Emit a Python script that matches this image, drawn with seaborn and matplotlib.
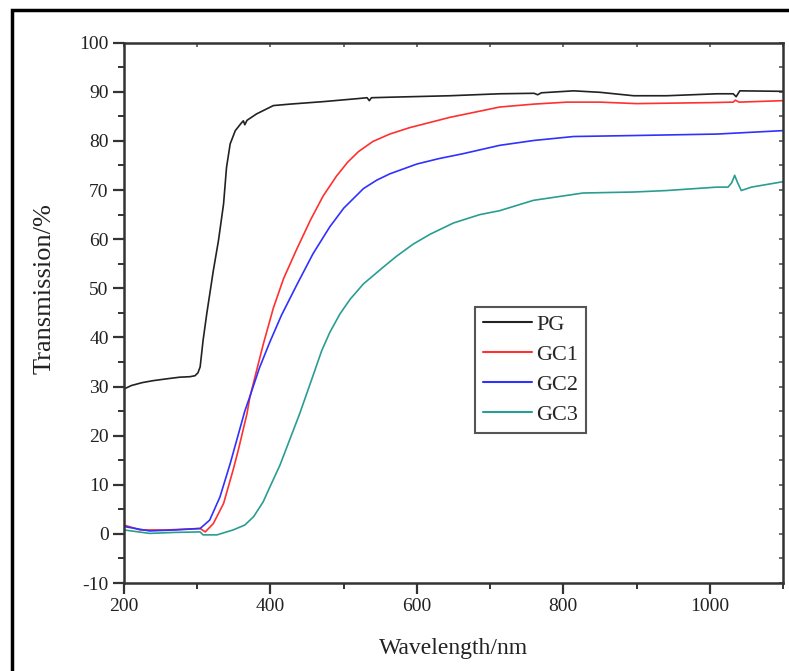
import numpy as np
import pandas as pd
import matplotlib
matplotlib.use("Agg")
import matplotlib.pyplot as plt
from matplotlib.patches import Rectangle
from matplotlib.ticker import MultipleLocator
import seaborn as sns

# ---- data (wavelength in nm, transmission in %) ----
pg_nm = [200, 210, 225, 240, 260, 276, 290, 297, 301, 304, 308, 313, 322, 329, 336, 340, 345,
         352, 360, 363, 365, 368, 381, 404, 427, 472, 518, 532, 535, 538, 563, 645, 713,
         760, 765, 770, 814, 850, 896, 941, 1010, 1032, 1036, 1041, 1100]
pg_t = [29.5, 30.2, 30.8, 31.2, 31.6, 31.9, 32.0, 32.2, 32.8, 34.0, 39.4, 44.8, 53.6, 59.7,
        67.2, 74.6, 79.4, 82.1, 83.6, 84.1, 83.3, 84.2, 85.5, 87.2, 87.5, 88.0, 88.6, 88.8,
        88.2, 88.8, 88.9, 89.2, 89.6, 89.7, 89.4, 89.8, 90.2, 89.9, 89.2, 89.2, 89.6, 89.6,
        89.0, 90.2, 90.1]

gc1_nm = [200, 222, 258, 304, 311, 322, 336, 349, 356, 368, 372, 390, 404, 418, 436, 455,
          472, 490, 505, 520, 540, 563, 590, 645, 713, 760, 805, 850, 900, 1000, 1032, 1035,
          1040, 1100]
gc1_t = [1.8, 0.8, 0.8, 1.1, 0.4, 2.1, 6.2, 13.0, 17.0, 24.5, 27.9, 38.5, 46.0, 52.0, 58.0,
         64.0, 68.8, 72.8, 75.6, 77.8, 79.9, 81.4, 82.7, 84.8, 86.9, 87.5, 87.9, 87.9, 87.6,
         87.8, 87.9, 88.3, 87.9, 88.2]

gc2_nm = [200, 235, 270, 304, 317, 331, 345, 365, 372, 385, 399, 415, 436, 458, 481, 500,
          527, 545, 563, 600, 630, 663, 713, 760, 814, 896, 1010, 1100]
gc2_t = [1.5, 0.6, 0.8, 1.1, 2.8, 7.5, 14.3, 25.0, 28.0, 33.8, 39.0, 44.5, 50.7, 57.0, 62.5,
         66.3, 70.3, 72.0, 73.3, 75.3, 76.4, 77.4, 79.1, 80.1, 80.9, 81.1, 81.4, 82.1]

gc3_nm = [200, 235, 270, 304, 308, 327, 349, 365, 377, 390, 400, 413, 422, 440, 460, 470,
          481, 495, 509, 527, 554, 572, 595, 618, 650, 686, 713, 759, 827, 896, 941, 1010,
          1025, 1030, 1034, 1038, 1043, 1057, 1100]
gc3_t = [0.8, 0.1, 0.3, 0.4, -0.2, -0.2, 0.8, 1.8, 3.5, 6.5, 9.8, 14.0, 17.5, 24.5, 33.0,
         37.3, 41.0, 44.8, 47.8, 50.9, 54.3, 56.5, 59.0, 61.0, 63.3, 65.0, 65.8, 67.9, 69.4,
         69.6, 69.9, 70.6, 70.6, 71.5, 73.0, 71.5, 69.9, 70.6, 71.7]

series = [
    ("PG", pg_nm, pg_t, "#222222"),
    ("GC1", gc1_nm, gc1_t, "#ff3030"),
    ("GC2", gc2_nm, gc2_t, "#3030ff"),
    ("GC3", gc3_nm, gc3_t, "#2a9d93"),
]

sns.set_theme(style="ticks")
plt.rcParams["font.family"] = ["Liberation Serif", "DejaVu Serif"]
plt.rcParams["axes.unicode_minus"] = False

fig = plt.figure(figsize=(7.89, 6.71), dpi=100)
ax = fig.add_axes([124 / 789, 1 - 583 / 671, 659 / 789, 540.3 / 671])

for name, x, y, c in series:
    df = pd.DataFrame({"Wavelength": x, "Transmission": y})
    sns.lineplot(data=df, x="Wavelength", y="Transmission", color=c, lw=1.2,
                 label=name, ax=ax, sort=True)

ax.set_xlim(200, 1100)
ax.set_ylim(-10, 100)
ax.xaxis.set_major_locator(MultipleLocator(200))
ax.xaxis.set_minor_locator(MultipleLocator(100))
ax.yaxis.set_major_locator(MultipleLocator(10))
ax.yaxis.set_minor_locator(MultipleLocator(5))

for s in ax.spines.values():
    s.set_visible(True)
    s.set_linewidth(1.8)
    s.set_color("#333333")

ax.tick_params(axis="both", which="major", direction="out", length=8, width=1.6,
               color="#333333", labelsize=14, labelcolor="#222222", pad=3)
ax.tick_params(axis="both", which="minor", direction="out", length=4, width=1.4,
               color="#333333")

# inward ticks on the top and right
top = ax.secondary_xaxis("top")
top.xaxis.set_major_locator(MultipleLocator(100))
top.tick_params(direction="in", length=3, width=1.2, color="#555555", labeltop=False)
right = ax.secondary_yaxis("right")
right.yaxis.set_major_locator(MultipleLocator(5))
right.tick_params(direction="in", length=3, width=1.2, color="#555555", labelright=False)
top.spines["top"].set_visible(False)
right.spines["right"].set_visible(False)

ax.set_xlabel("Wavelength/nm", fontsize=17, color="#222222")
ax.set_ylabel("Transmission/%", fontsize=19, color="#222222")
ax.xaxis.set_label_coords(0.5, -0.102)
ax.yaxis.set_label_coords(-0.104, 0.545)

leg = ax.legend(loc="upper left", bbox_to_anchor=(0.533, 0.511), borderaxespad=0,
                fontsize=16, handlelength=2.2, handletextpad=0.2, labelspacing=0.42,
                borderpad=0.35, fancybox=False, framealpha=1, edgecolor="#555555")
leg.get_frame().set_linewidth(1.5)
for line in leg.get_lines():
    line.set_linewidth(1.5)

# outer frame of the figure panel
fig.patches.append(Rectangle((12 / 789, -0.05), 1.1, 1 - 10 / 671 + 0.05, fill=False,
                             lw=2.5, edgecolor="black", transform=fig.transFigure,
                             figure=fig))

fig.savefig("out.png", dpi=100)
